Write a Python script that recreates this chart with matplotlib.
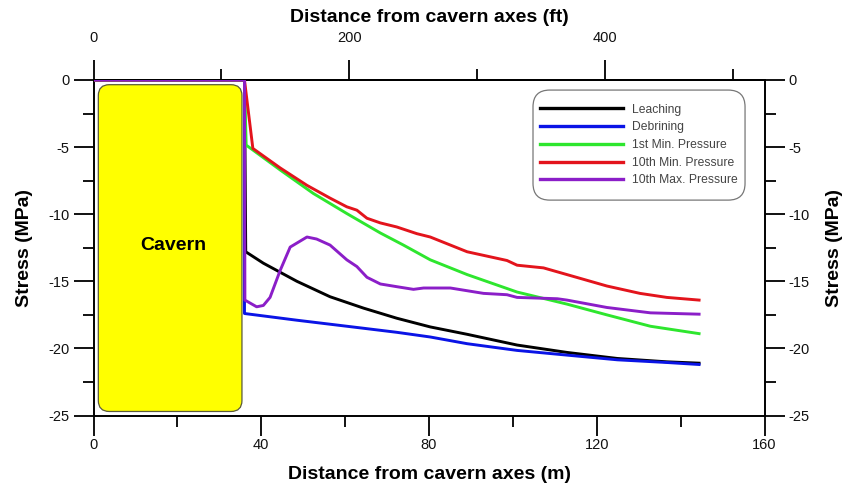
import matplotlib
matplotlib.use("Agg")
import matplotlib.pyplot as plt
from matplotlib.patches import FancyBboxPatch
from matplotlib.ticker import MultipleLocator, FixedLocator

plt.rcParams['font.family'] = ['Liberation Sans', 'DejaVu Sans']
plt.rcParams['axes.unicode_minus'] = False

# stress profiles along the distance from the cavern axis (m, MPa)
leach_x = [0, 36.0, 36.3, 40.5, 48.5, 56.4, 64.4, 72.3, 80.3, 89.1, 101.0, 112.9, 124.9, 136.7, 144.4]
leach_y = [0, 0, -12.8, -13.65, -15.0, -16.15, -17.0, -17.75, -18.4, -18.95, -19.75, -20.3, -20.75, -21.0, -21.1]

debr_x = [0, 36.0, 36.0, 48.5, 64.4, 72.3, 80.3, 89.1, 101.0, 112.9, 124.9, 136.7, 144.4]
debr_y = [0, 0, -17.4, -17.9, -18.5, -18.8, -19.15, -19.65, -20.15, -20.5, -20.85, -21.05, -21.2]

min1_x = [0, 36.0, 36.4, 44.5, 52.4, 60.4, 68.4, 73.9, 80.3, 89.1, 101.0, 112.9, 122.4, 132.8, 144.4]
min1_y = [0, 0, -4.85, -6.7, -8.45, -9.95, -11.4, -12.3, -13.4, -14.5, -15.8, -16.7, -17.5, -18.35, -18.9]

min10_x = [0, 36.0, 38.0, 44.5, 50.9, 56.4, 60.4, 62.8, 65.2, 68.4, 72.3, 77.1, 80.3, 89.1, 98.6,
           101.0, 107.3, 112.9, 122.4, 130.3, 136.7, 144.4]
min10_y = [0, 0, -5.1, -6.55, -7.85, -8.8, -9.45, -9.7, -10.3, -10.65, -10.95, -11.45, -11.7, -12.8, -13.45,
           -13.8, -14.0, -14.5, -15.35, -15.9, -16.2, -16.4]

max10_x = [0, 36.0, 36.1, 38.9, 40.5, 42.1, 44.5, 46.9, 50.9, 53.2, 56.4, 60.4, 62.8, 65.2, 68.4, 72.3,
           76.3, 78.7, 85.1, 93.0, 98.6, 101.0, 110.6, 112.9, 122.4, 132.8, 144.4]
max10_y = [0, 0, -16.4, -16.9, -16.8, -16.2, -14.2, -12.45, -11.7, -11.85, -12.3, -13.4, -13.9, -14.7, -15.2, -15.4,
           -15.6, -15.5, -15.5, -15.9, -16.0, -16.2, -16.3, -16.4, -16.95, -17.35, -17.45]

ft_major = [0, 200, 400]
ft_minor = [100, 300, 500]

fig = plt.figure(figsize=(8.48, 4.95), dpi=100)
ax = fig.add_axes([93.5 / 848, 1 - 415.5 / 495, 671 / 848, 335.5 / 495])

# cavern outline
cav = FancyBboxPatch((1.15, -24.7), 34.25, 24.35,
                     boxstyle="round,pad=0,rounding_size=2.6",
                     mutation_aspect=13.42 / 4.194 / 10.2,
                     facecolor='#ffff00', edgecolor='#5a5a3a', lw=0.9, zorder=1)
ax.add_patch(cav)
ax.text(19, -12.3, 'Cavern', fontsize=14, fontweight='bold', ha='center', va='center', zorder=2)

lw = 2.1
ax.plot(leach_x, leach_y, color='black', lw=lw, label='Leaching', zorder=3)
ax.plot(debr_x, debr_y, color='#0a14e6', lw=lw, label='Debrining', zorder=3)
ax.plot(min1_x, min1_y, color='#2ee62e', lw=lw, label='1st Min. Pressure', zorder=3)
ax.plot(min10_x, min10_y, color='#e3141c', lw=lw, label='10th Min. Pressure', zorder=3)
ax.plot(max10_x, max10_y, color='#8b1ec8', lw=lw, label='10th Max. Pressure', zorder=4)

ax.set_xlim(0, 160)
ax.set_ylim(-25, 0)
ax.xaxis.set_major_locator(MultipleLocator(40))
ax.xaxis.set_minor_locator(MultipleLocator(20))
ax.yaxis.set_major_locator(MultipleLocator(5))
ax.yaxis.set_minor_locator(MultipleLocator(2.5))

for s in ax.spines.values():
    s.set_linewidth(1.4)

ax.tick_params(which='both', direction='out', width=1.4, labelsize=10.5, colors='#111111')
ax.tick_params(which='major', length=14.5, pad=3)
ax.tick_params(which='minor', length=8)
ax.tick_params(axis='x', which='major', pad=1.5)
ax.tick_params(axis='y', left=True, right=True, labelleft=True, labelright=True, which='both')
ax.tick_params(axis='x', top=False, which='both')

ax.set_xlabel('Distance from cavern axes (m)', fontsize=14, fontweight='bold', labelpad=10)
ax.set_ylabel('Stress (MPa)', fontsize=14, fontweight='bold', labelpad=10.5)

# right hand label
ry = ax.secondary_yaxis('right')
ry.set_yticks([])
ry.spines['right'].set_visible(False)
ry.set_ylabel('Stress (MPa)', fontsize=14, fontweight='bold', labelpad=44)

# feet along the top
m2ft = lambda m: m / 0.3048
ft2m = lambda f: f * 0.3048
top = ax.secondary_xaxis('top', functions=(m2ft, ft2m))
top.xaxis.set_major_locator(FixedLocator(ft_major))
top.xaxis.set_minor_locator(FixedLocator(ft_minor))
top.tick_params(which='both', direction='out', width=1.4, labelsize=10.5, colors='#111111')
top.tick_params(which='major', length=14.5, pad=11)
top.tick_params(which='minor', length=8)
top.spines['top'].set_linewidth(1.4)
top.set_xlabel('Distance from cavern axes (ft)', fontsize=14, fontweight='bold', labelpad=6)

# legend box drawn separately, legend itself unframed inside it
box = FancyBboxPatch((0.655, 0.642), 0.316, 0.328, transform=ax.transAxes,
                     boxstyle="round,pad=0,rounding_size=0.025",
                     mutation_aspect=671 / 335.5,
                     facecolor='white', edgecolor='#777777', lw=0.9, zorder=5)
ax.add_patch(box)
leg = ax.legend(loc='center', bbox_to_anchor=(0.813, 0.806), borderaxespad=0,
                fontsize=8.7, handlelength=6.9, labelspacing=0.47, frameon=False,
                borderpad=0, handletextpad=0.75)
leg.set_zorder(6)
for t in leg.get_texts():
    t.set_color('#444444')
for h in leg.get_lines():
    h.set_linewidth(2.4)

fig.savefig('out.png', dpi=100)
